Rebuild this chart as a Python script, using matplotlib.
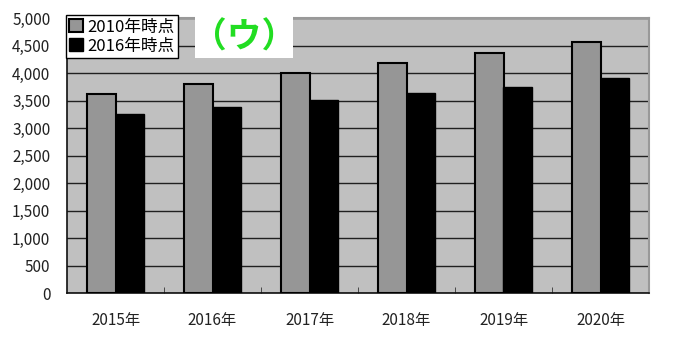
import numpy as np
import matplotlib.pyplot as plt
import matplotlib.ticker as mticker
from matplotlib.patches import Rectangle

plt.rcParams['font.family'] = ['Noto Sans CJK JP', 'DejaVu Sans']

years = ['2015年', '2016年', '2017年', '2018年', '2019年', '2020年']
est_2010 = [3620, 3800, 4000, 4180, 4360, 4560]
est_2016 = [3250, 3380, 3510, 3640, 3750, 3910]
series_labels = ['2010年時点', '2016年時点']

fig = plt.figure(figsize=(6.8, 3.42), dpi=100)
ax = fig.add_axes([67 / 680, 1 - 293 / 342, 582 / 680, 275 / 342])
ax.set_facecolor('#c0c0c0')

x = np.arange(len(years))
w = 0.29
ax.bar(x - w / 2, est_2010, w, color='#969696', edgecolor='black', linewidth=1.5,
       label=series_labels[0], zorder=3)
ax.bar(x + w / 2, est_2016, w, color='black', edgecolor='black', linewidth=1.0,
       label=series_labels[1], zorder=3)

ax.set_xlim(-0.5, len(years) - 0.5)
ax.set_ylim(0, 5000)
ax.yaxis.set_major_locator(mticker.MultipleLocator(500))
ax.yaxis.set_major_formatter(mticker.FuncFormatter(lambda v, p: f'{int(v):,}'))
ax.grid(axis='y', color='#202020', linewidth=1.0, zorder=1)

ax.set_xticks(x)
ax.set_xticklabels(years)
ax.set_xticks(np.arange(0.5, len(years) - 0.5, 1), minor=True)
ax.tick_params(axis='x', which='major', length=0, pad=14, labelsize=11, colors='#222222')
ax.tick_params(axis='x', which='minor', direction='in', length=4, color='#333333')
ax.tick_params(axis='y', length=0, pad=12, labelsize=11, colors='#222222')

for side in ['left', 'bottom']:
    ax.spines[side].set_color('#111111')
    ax.spines[side].set_linewidth(1.2)
for side in ['top', 'right']:
    ax.spines[side].set_color('#999999')
    ax.spines[side].set_linewidth(1.5)

leg = ax.legend(loc='upper left', bbox_to_anchor=(-0.002, 1.01), fontsize=12,
                frameon=True, fancybox=False, handlelength=0.8, handleheight=0.8,
                handletextpad=0.3, borderpad=0.2, labelspacing=0.12,
                borderaxespad=0)
leg.get_frame().set_edgecolor('black')
leg.get_frame().set_linewidth(1.0)
leg.get_frame().set_facecolor('white')
leg.get_frame().set_alpha(1)
leg.set_zorder(5)

fig.patches.append(Rectangle((195 / 680, 1 - 58 / 342), 98 / 680, 42 / 342,
                             transform=fig.transFigure, facecolor='white',
                             edgecolor='none', zorder=4))
fig.text(244 / 680, 1 - 37 / 342, '（ウ）', color='#22dd22', fontsize=25,
         fontweight='bold', ha='center', va='center', zorder=6)

fig.savefig('out.png', dpi=100, facecolor='white')
